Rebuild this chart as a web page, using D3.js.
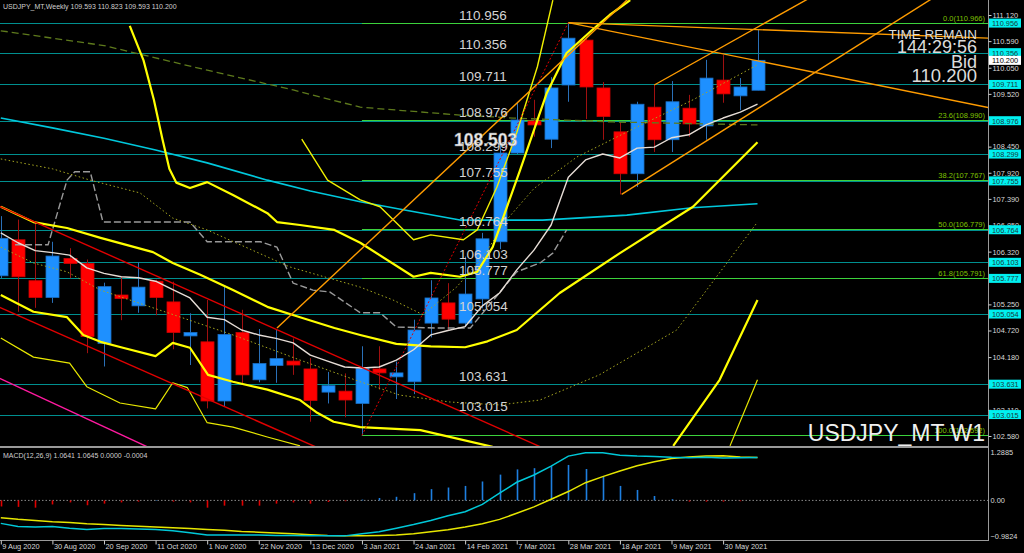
<!DOCTYPE html>
<html><head><meta charset="utf-8">
<script src="https://cdn.jsdelivr.net/npm/d3@7"></script>
<style>
body{margin:0;background:#000;overflow:hidden}
svg{display:block}
text{font-family:"Liberation Sans",Arial,sans-serif}
</style>
</head><body>
<svg id="c" width="1024" height="553"></svg>
<script>
// ---------- DATA ----------
const dates = ["9 Aug 2020","16 Aug 2020","23 Aug 2020","30 Aug 2020","6 Sep 2020","13 Sep 2020","20 Sep 2020","27 Sep 2020","4 Oct 2020","11 Oct 2020","18 Oct 2020","25 Oct 2020","1 Nov 2020","8 Nov 2020","15 Nov 2020","22 Nov 2020","29 Nov 2020","6 Dec 2020","13 Dec 2020","20 Dec 2020","27 Dec 2020","3 Jan 2021","10 Jan 2021","17 Jan 2021","24 Jan 2021","31 Jan 2021","7 Feb 2021","14 Feb 2021","21 Feb 2021","28 Feb 2021","7 Mar 2021","14 Mar 2021","21 Mar 2021","28 Mar 2021","4 Apr 2021","11 Apr 2021","18 Apr 2021","25 Apr 2021","2 May 2021","9 May 2021","16 May 2021","23 May 2021","30 May 2021","6 Jun 2021","13 Jun 2021"];
const open  = [105.83,106.56,105.73,105.39,106.18,106.08,104.46,105.44,105.22,105.72,105.30,104.61,104.49,103.29,104.68,103.72,104.01,104.10,103.94,103.47,103.49,103.24,103.94,103.78,103.68,104.87,105.28,104.87,105.36,106.52,108.32,108.97,108.60,109.70,110.61,109.64,108.75,107.90,109.25,108.59,109.23,108.87,109.80,109.48,109.593];
const high  = [107.04,106.97,106.93,106.52,106.39,106.16,105.69,105.81,106.11,105.75,105.71,105.07,105.34,105.62,105.14,104.75,104.73,104.56,104.16,103.88,103.85,104.40,104.40,104.09,104.94,105.74,105.68,106.22,106.70,108.65,109.34,109.40,109.86,110.966,110.65,109.76,108.95,109.36,109.70,109.78,109.50,110.21,110.31,109.84,110.823];
const low   = [105.78,105.10,105.18,105.28,105.78,104.26,103.99,104.93,105.08,105.03,104.34,104.02,103.14,103.17,103.65,103.67,103.66,103.82,102.87,103.24,102.96,102.592,103.52,103.33,103.43,104.58,104.73,104.80,105.17,106.37,108.30,108.65,108.42,109.36,109.01,108.59,107.48,107.63,108.34,108.34,108.65,108.59,109.34,109.19,109.593];
const close = [106.59,105.81,105.39,106.23,106.08,104.60,105.61,105.37,105.60,105.39,104.68,104.68,103.29,104.64,103.82,104.05,104.15,104.02,103.30,103.60,103.31,103.95,103.86,103.86,104.73,105.38,104.95,105.46,106.58,108.32,108.99,108.89,109.64,110.65,109.66,109.06,107.90,109.31,108.59,109.36,108.91,109.84,109.52,109.66,110.200];

const tickBars = [0,3,6,9,12,15,18,21,24,27,30,33,36,39,42];
const priceTicks = [111.12,110.59,110.05,109.52,108.45,107.92,107.39,106.85,106.32,105.25,104.72,104.18,103.11,102.58];
const levels = [110.956,110.356,109.711,108.976,108.299,107.755,106.764,106.103,105.777,105.054,103.631,103.015];
const fibPct = ["0.0","23.6","38.2","50.0","61.8","100.0"];
const fibVal = [110.966,108.990,107.767,106.779,105.791,102.592];
const bidPrice = 110.200;

// indicator lines: [bar, price]
const maWhite = [[0,106.70],[1,106.50],[2,106.34],[3,106.30],[4,106.25],[5,105.99],[6,105.88],[7,105.81],[8,105.79],[9,105.72],[10,105.55],[11,105.38],[12,104.99],[13,104.94],[14,104.73],[15,104.63],[16,104.56],[17,104.47],[18,104.22],[19,104.10],[20,103.98],[21,103.96],[22,103.98],[23,104.12],[24,104.33],[25,104.63],[26,104.72],[27,104.80],[28,105.22],[29,105.48],[30,105.95],[31,106.35],[32,106.86],[33,107.83],[34,108.18],[35,108.30],[36,108.22],[37,108.42],[38,108.44],[39,108.63],[40,108.69],[41,108.89],[42,109.03],[43,109.15],[44,109.31]];
const maCyan = [[0,109.03],[3,108.83],[6,108.62],[9,108.38],[12,108.12],[15.5,107.77],[18,107.55],[20.9,107.33],[23.4,107.17],[26.7,106.96],[31.5,106.96],[36.4,107.06],[40.2,107.21],[44,107.29]];
const maOliveDash = [[0,110.8],[6,110.5],[12,110.0],[17,109.6],[20.9,109.25],[26.7,109.09],[29.8,109.03],[35.6,108.95],[44,108.89]];
const kijunGray = [[0.83,106.46],[2.75,106.46],[3.85,107.77],[4.3,107.94],[5.2,107.94],[5.94,106.92],[11.0,106.92],[12.0,106.52],[15.1,106.52],[16.06,106.41],[17.0,105.68],[18.15,105.54],[19.14,105.50],[20.9,105.08],[22.05,105.08],[23.0,104.79],[25.4,104.77],[27.3,104.77],[30.0,105.91],[31.35,106.09],[32.1,106.29],[32.9,106.76]];
const dotOlive1 = [[0,106.41],[1.9,106.09],[3.85,105.91],[5.8,105.54],[9.7,105.08],[13.5,104.63],[17.4,104.12],[20.9,103.68],[23.2,103.41],[26.1,103.27],[29,103.21],[31.35,103.31],[34.8,103.82],[39.3,104.73],[44,106.92]];
const dotOlive2 = [[0,108.2],[3,108.0],[5.2,107.77],[8.1,107.51],[10.0,107.00],[12.0,106.76],[16.8,106.01],[20.9,105.60],[22.8,105.34],[24.55,105.04],[26.5,105.6],[28,106.2],[29.5,107.0],[31,107.6],[33.5,108.24],[37.0,108.85],[40.25,109.40],[44,110.11]];
const bandUpThick = [[7.5,110.9],[8.3,110.2],[8.9,109.4],[9.4,108.6],[9.8,108.0],[10.2,107.72],[11,107.61],[12,107.73],[13.5,107.47],[15.5,107.10],[16.06,106.92],[17.4,106.86],[19.4,106.76],[20.9,106.50],[24.0,105.81],[25,105.89],[26.7,105.81],[27.7,105.91],[28.6,106.41],[30.2,107.98],[31.75,109.54],[32.9,110.35],[34.4,110.82],[35.4,111.12],[36.6,111.42]];
const bandUpThin = [[17.5,108.6],[19,107.77],[20.9,107.37],[22.05,107.23],[24.0,106.56],[25.0,106.66],[26.9,106.56],[27.7,106.76],[28.85,107.63],[30.0,108.73],[31.2,110.07],[32.1,111.42]];
const bandMidThick = [[0,107.23],[1.9,106.92],[3.85,106.80],[5.8,106.60],[8.85,106.31],[10,106.09],[11.6,105.85],[13.5,105.54],[15.5,105.20],[17.4,104.99],[19.4,104.77],[20.9,104.63],[23,104.45],[25,104.40],[27,104.38],[28.3,104.50],[30,104.73],[32.5,105.48],[36,106.29],[40.25,107.23],[44,108.54]];
const bandLowThick = [[0,105.44],[1.9,105.10],[3.85,104.99],[4.8,104.63],[5.8,104.49],[7.1,104.37],[9.0,104.20],[10.0,104.47],[11.0,104.37],[12.05,103.82],[13.5,103.68],[15.5,103.52],[17.4,103.31],[18.4,103.05],[19.35,102.87],[20.9,102.76],[24.4,102.70],[28.6,102.36]];
const bandLowThick2 = [[39.1,102.38],[41.8,103.72],[44,105.34]];
const bandLowThin = [[0,104.57],[1.9,104.18],[4.0,104.06],[5.0,103.58],[6.93,103.25],[9.0,103.13],[10,103.66],[10.85,103.56],[12.0,102.85],[13.5,102.76],[15.5,102.56],[17.4,102.38]];
const bandLowThin2 = [[42.4,102.38],[44,103.72]];

// trend lines: two anchors [bar, price], extended as rays
const redUpper = [[0,107.23],[31.25,102.38]];
const redLower = [[0,105.18],[17.4,102.50]];
const magenta  = [[0,103.74],[8.4,102.38]];
const orange1  = [[16.06,104.77],[36.4,111.42]];
const orange3  = [[36.1,107.48],[54.0,111.42]];
const orange4  = [[38.0,109.70],[46.8,111.42]];
const orange5  = [[33,110.966],[57.45,110.65]];
const orange6  = [[33,110.966],[55.2,109.40]];
const fibBase  = [[21,102.592],[33,110.966]];

// MACD
const macdMain = [-0.57,-0.65,-0.66,-0.65,-0.69,-0.72,-0.70,-0.70,-0.71,-0.72,-0.75,-0.80,-0.86,-0.86,-0.86,-0.86,-0.87,-0.87,-0.88,-0.88,-0.88,-0.83,-0.78,-0.69,-0.60,-0.50,-0.38,-0.28,-0.10,0.18,0.45,0.63,0.85,1.10,1.18,1.18,1.12,1.10,1.09,1.07,1.06,1.07,1.05,1.06,1.0641];
const macdSignal = [-0.43,-0.47,-0.50,-0.53,-0.55,-0.58,-0.60,-0.62,-0.64,-0.66,-0.68,-0.70,-0.72,-0.74,-0.77,-0.79,-0.81,-0.83,-0.85,-0.87,-0.88,-0.88,-0.87,-0.86,-0.83,-0.78,-0.73,-0.66,-0.58,-0.47,-0.32,-0.16,0.03,0.22,0.44,0.59,0.73,0.86,0.96,1.04,1.08,1.10,1.11,1.08,1.0645];
const macdHist = [-0.15,-0.16,-0.18,-0.10,-0.05,-0.12,-0.08,-0.05,-0.03,0.01,-0.03,-0.05,-0.18,-0.13,-0.13,-0.13,-0.08,-0.05,-0.08,-0.04,-0.02,0.02,0.06,0.09,0.18,0.28,0.32,0.36,0.47,0.64,0.77,0.80,0.85,0.88,0.78,0.59,0.36,0.26,0.11,0.03,-0.03,-0.03,-0.03,-0.02,-0.0004];
const macdTicks = [1.2885,0,-0.9824];

// ---------- DRAW ----------
const svg = d3.select("#c");
const W = 988, mainBottom = 446, macdTop = 448, macdBottom = 540;
const x = d3.scaleLinear().domain([0,44]).range([0.8,757.5]);
const y = d3.scaleLinear().domain([102.58,111.12]).range([436,15]);
const yM = d3.scaleLinear().domain([-0.9824,1.2885]).range([macdBottom,448.5]);

svg.append("rect").attr("width",1024).attr("height",553).attr("fill","#000");
const defs = svg.append("defs");
defs.append("clipPath").attr("id","cm").append("rect").attr("x",0).attr("y",0).attr("width",W).attr("height",mainBottom);
defs.append("clipPath").attr("id","cd").append("rect").attr("x",0).attr("y",macdTop).attr("width",W).attr("height",macdBottom-macdTop);

const main = svg.append("g").attr("clip-path","url(#cm)");
const line = d3.line().x(d=>x(d[0])).y(d=>y(d[1]));
function ray(a, toBar){ const s=(a[1][1]-a[0][1])/(a[1][0]-a[0][0]); return [a[0],[toBar, a[0][1]+s*(toBar-a[0][0])]]; }
function both(a){ const s=(a[1][1]-a[0][1])/(a[1][0]-a[0][0]); return [[-5,a[0][1]+s*(-5-a[0][0])],[70,a[0][1]+s*(70-a[0][0])]]; }

// level lines
main.selectAll(".lvl").data(levels).join("line")
  .attr("x1",0).attr("x2",W).attr("y1",d=>Math.round(y(d))+0.5).attr("y2",d=>Math.round(y(d))+0.5)
  .attr("stroke","#008f8f").attr("stroke-width",1);
// fib lines
main.selectAll(".fib").data(fibVal).join("line")
  .attr("x1",x(21)).attr("x2",W).attr("y1",d=>Math.round(y(d))+0.5).attr("y2",d=>Math.round(y(d))+0.5)
  .attr("stroke","#3cd23c").attr("stroke-width",1.2);

// candles
const bars = d3.range(dates.length);
main.selectAll(".wick").data(bars).join("line")
  .attr("x1",i=>Math.round(x(i))+0.5).attr("x2",i=>Math.round(x(i))+0.5)
  .attr("y1",i=>y(high[i])).attr("y2",i=>y(low[i]))
  .attr("stroke",i=>close[i]>=open[i]?"#2a70b8":"#a01010").attr("stroke-width",1);
main.selectAll(".body").data(bars).join("rect")
  .attr("x",i=>Math.round(x(i))-6).attr("width",13)
  .attr("y",i=>y(Math.max(open[i],close[i])))
  .attr("height",i=>Math.max(1.5,Math.abs(y(open[i])-y(close[i]))))
  .attr("fill",i=>close[i]>=open[i]?"#1e90ff":"#ff0000")
  .attr("stroke",i=>close[i]>=open[i]?"#1a6fc4":"#d00000").attr("stroke-width",0.8);

// indicators
function path(data, color, width, dash){
  main.append("path").datum(data).attr("d",line).attr("fill","none")
    .attr("stroke",color).attr("stroke-width",width).attr("stroke-dasharray",dash||null)
    .attr("stroke-linejoin","round");
}
path(maOliveDash,"#5e7a1c",1.3,"7,4");
path(dotOlive1,"#a8a820",1,"1.5,2.5");
path(dotOlive2,"#a8a820",1,"1.5,2.5");
path(kijunGray,"#9a9a9a",1.4,"7,3");
path(maCyan,"#00c8dc",1.6);
path(bandLowThin,"#e8e800",1.2);
path(bandLowThin2,"#e8e800",1.2);
path(bandUpThin,"#f0f000",1.4);
path(bandUpThick,"#ffff00",2.2);
path(bandMidThick,"#ffff00",2.2);
path(bandLowThick,"#ffff00",2.2);
path(bandLowThick2,"#ffff00",2.2);
path(maWhite,"#e6ddd6",1.4);
path(both(redUpper),"#e00000",1.4);
path(both(redLower),"#e00000",1.4);
path(both(magenta),"#ff1aa0",1.4);
path(ray(orange1,60),"#ff9c00",1.4);
path(ray(orange3,70),"#ff9c00",1.4);
path(ray(orange4,70),"#ff9c00",1.4);
path(ray(orange5,70),"#ff9c00",1.4);
path(ray(orange6,70),"#ff9c00",1.4);
path(fibBase,"#e00000",1,"2,2");

// level labels in chart
main.selectAll(".lt").data(levels).join("text")
  .attr("x",459).attr("y",d=>y(d)-3.5).attr("fill","#d4d4d4").attr("font-size",13.5).text(d=>d.toFixed(3));
main.append("text").attr("x",454).attr("y",y(108.50)+2).attr("fill","#ececec").attr("font-size",17.5)
  .attr("font-weight","bold").attr("stroke","#888").attr("stroke-width",0.4).text("108.503");

// fib labels
main.selectAll(".fl").data(fibVal).join("text")
  .attr("x",985).attr("y",d=>y(d)-2).attr("text-anchor","end").attr("fill","#7fc000").attr("font-size",7.5)
  .text((d,i)=>fibPct[i]+"("+d.toFixed(3)+")");

// top-right info
const info = [["TIME REMAIN",13.5,38.5],["144:29:56",18,53],["Bid",18,68],["110.200",18.5,81.5]];
main.selectAll(".inf").data(info).join("text").attr("x",977).attr("y",d=>d[2]).attr("text-anchor","end")
  .attr("fill","#dcdcdc").attr("font-size",d=>d[1]).text(d=>d[0]);
main.append("text").attr("x",985).attr("y",441).attr("text-anchor","end").attr("fill","#f0f0f0")
  .attr("font-size",23).text("USDJPY_MT W1");

// header
svg.append("text").attr("x",3).attr("y",9).attr("fill","#cfcfcf").attr("font-size",7)
  .text("USDJPY_MT,Weekly  109.593 110.823 109.593 110.200");

// ---------- MACD ----------
const md = svg.append("g").attr("clip-path","url(#cd)");
md.append("line").attr("x1",0).attr("x2",W).attr("y1",yM(0)).attr("y2",yM(0))
  .attr("stroke","#888").attr("stroke-dasharray","1.5,2").attr("stroke-width",1);
md.selectAll(".h").data(bars).join("line")
  .attr("x1",i=>Math.round(x(i))+0.5).attr("x2",i=>Math.round(x(i))+0.5)
  .attr("y1",yM(0)).attr("y2",i=>yM(macdHist[i]))
  .attr("stroke",i=>macdHist[i]>=0?"#1e7fe0":"#e00000").attr("stroke-width",1.6);
const mline = d3.line().x((d,i)=>x(i)).y(d=>yM(d));
md.append("path").datum(macdSignal).attr("d",mline).attr("fill","none").attr("stroke","#e6e600").attr("stroke-width",1.5);
md.append("path").datum(macdMain).attr("d",mline).attr("fill","none").attr("stroke","#00c8d8").attr("stroke-width",1.5);
svg.append("text").attr("x",3).attr("y",458).attr("fill","#cfcfcf").attr("font-size",7)
  .text("MACD(12,26,9) 1.0641 1.0645 0.0000 -0.0004");

// frames
svg.append("rect").attr("x",0).attr("y",mainBottom).attr("width",W+1).attr("height",2).attr("fill","#9a9a9a");
svg.append("line").attr("x1",W+0.5).attr("x2",W+0.5).attr("y1",0).attr("y2",macdBottom).attr("stroke","#9a9a9a");
svg.append("line").attr("x1",0).attr("x2",W+1).attr("y1",macdBottom+0.5).attr("y2",macdBottom+0.5).attr("stroke","#9a9a9a");

// right price axis
const ya = svg.append("g").attr("transform",`translate(${W+0.5},0)`)
  .call(d3.axisRight(y).tickValues(priceTicks).tickSize(3).tickFormat(d3.format(".3f")));
ya.select(".domain").remove();
ya.selectAll("line").attr("stroke","#cfcfcf");
ya.selectAll("text").attr("fill","#d8d8d8").attr("font-size",7.4).attr("x",4).attr("font-family","Liberation Sans,Arial");

// level boxes
const lb = svg.append("g");
lb.selectAll("rect").data(levels).join("rect").attr("x",W+1).attr("y",d=>y(d)-4.5).attr("width",32).attr("height",9).attr("fill","#00f0f0");
lb.selectAll("text").data(levels).join("text").attr("x",W+4).attr("y",d=>y(d)+3).attr("fill","#1a3a3a").attr("font-size",7.4).text(d=>d.toFixed(3));
lb.append("rect").attr("x",W+1).attr("y",y(bidPrice)-4.5).attr("width",32).attr("height",9).attr("fill","#fff");
lb.append("text").attr("x",W+4).attr("y",y(bidPrice)+3).attr("fill","#000").attr("font-size",7.4).text(bidPrice.toFixed(3));

// MACD axis
function d4(d){return d3.format(".4f")(d);}
const ma = svg.append("g").attr("transform",`translate(${W+0.5},0)`)
  .call(d3.axisRight(yM).tickValues(macdTicks).tickSize(0).tickFormat(d=>d===0?"0.00":d4(d)));
ma.select(".domain").remove();
ma.selectAll("text").attr("fill","#d8d8d8").attr("font-size",7.4).attr("x",2);
ma.selectAll(".tick").filter(d=>d===1.2885).attr("transform",`translate(0,${yM(1.2885)+4.5})`);
ma.selectAll(".tick").filter(d=>d===-0.9824).attr("transform",`translate(0,${yM(-0.9824)-3})`);

// date axis
const xa = svg.append("g").attr("transform",`translate(0,${macdBottom+0.5})`)
  .call(d3.axisBottom(x).tickValues(tickBars).tickSize(4).tickFormat(i=>dates[i]));
xa.select(".domain").remove();
xa.selectAll("line").attr("stroke","#cfcfcf");
xa.selectAll("text").attr("fill","#d8d8d8").attr("font-size",7.4).attr("text-anchor","start").attr("x",1).attr("y",3.5).attr("font-family","Liberation Sans,Arial");
</script>
</body></html>
